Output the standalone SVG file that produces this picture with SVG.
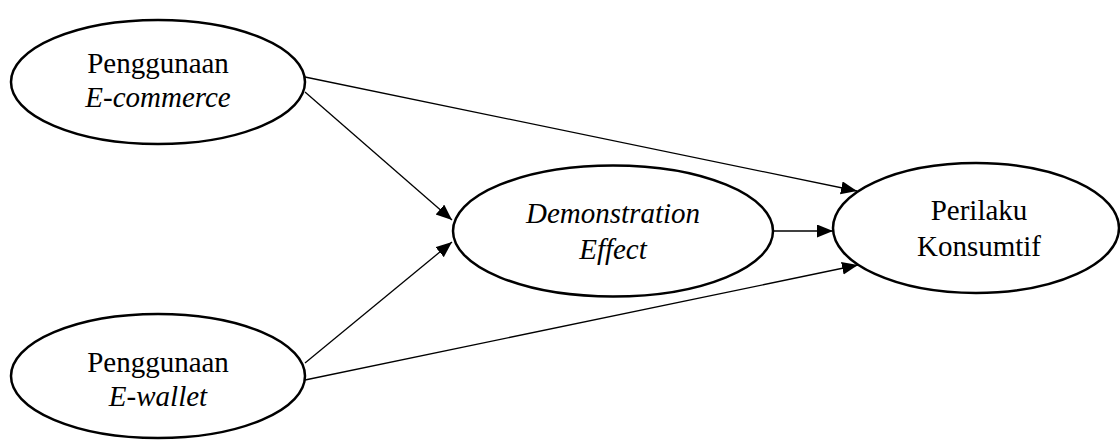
<svg xmlns="http://www.w3.org/2000/svg" width="1120" height="441" viewBox="0 0 1120 441">
  <style>
    .node ellipse { fill: #ffffff; stroke: #000000; stroke-width: 2.5; }
    .node text { font-size: 29px; fill: #000000; text-anchor: middle; }
    .node text.it { font-style: italic; }
    .edges line { stroke: #000000; stroke-width: 1.3; fill: none; marker-end: url(#arrow); }
  </style>
  <defs>
    <marker id="arrow" markerUnits="userSpaceOnUse" markerWidth="17" markerHeight="14" refX="16" refY="6.5" orient="auto">
      <path d="M0,0 L16,6.5 L0,13 Z" fill="#000000"/>
    </marker>
  </defs>
  <rect width="1120" height="441" fill="#ffffff"/>

  <!-- paths between constructs -->
  <g id="connectors" class="edges">
    <line x1="305" y1="77" x2="857" y2="191"/>
    <line x1="305" y1="92" x2="452" y2="220"/>
    <line x1="305" y1="363" x2="452" y2="242"/>
    <line x1="305" y1="380" x2="858" y2="265"/>
    <line x1="773" y1="231" x2="833" y2="231"/>
  </g>

  <g font-family="'Liberation Serif', 'Times New Roman', Times, 'DejaVu Serif', serif">
    <g id="ecommerce" class="node">
      <ellipse cx="158" cy="82" rx="147" ry="62"/>
      <text x="158" y="73">Penggunaan</text>
      <text x="158" y="107" class="it">E-commerce</text>
    </g>

    <g id="ewallet" class="node">
      <ellipse cx="158" cy="376" rx="147" ry="62"/>
      <text x="158" y="372">Penggunaan</text>
      <text x="158" y="406" class="it">E-wallet</text>
    </g>

    <g id="demonstration" class="node">
      <ellipse cx="613" cy="231" rx="160" ry="65.5"/>
      <text x="613" y="223" class="it">Demonstration</text>
      <text x="613" y="259" class="it">Effect</text>
    </g>

    <g id="perilaku" class="node">
      <ellipse cx="976" cy="228" rx="143" ry="65"/>
      <text x="979" y="220">Perilaku</text>
      <text x="979" y="256">Konsumtif</text>
    </g>
  </g>
</svg>
